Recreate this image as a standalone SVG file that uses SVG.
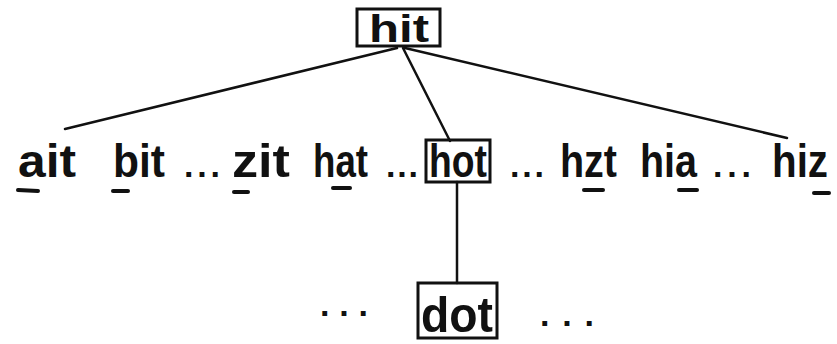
<svg xmlns="http://www.w3.org/2000/svg" width="837" height="344" viewBox="0 0 837 344">
  <style>
    .w { font-family: "Liberation Sans", "DejaVu Sans", sans-serif; font-weight: bold; fill: #111; font-size: 46px; }
    .box { fill: none; stroke: #111; stroke-width: 3; }
    .edge { stroke: #111; stroke-width: 2.5; fill: none; stroke-linecap: round; }
    .ul { stroke: #111; stroke-width: 4; stroke-linecap: round; }
    .dots { font-family: "Liberation Sans", sans-serif; font-weight: bold; font-size: 34px; fill: #111; }
  </style>
  <rect width="837" height="344" fill="#fff"/>

  <g id="edges">
    <line class="edge" x1="397" y1="48" x2="65" y2="129"/>
    <line class="edge" x1="403" y1="48" x2="450" y2="141"/>
    <line class="edge" x1="405" y1="48" x2="787" y2="138"/>
    <line class="edge" x1="457" y1="182" x2="457" y2="283"/>
  </g>

  <g id="hit">
    <rect class="box" x="357" y="9" width="83" height="37"/>
    <text class="w" x="369" y="42" style="font-size:38px" textLength="60" lengthAdjust="spacingAndGlyphs">hit</text>
  </g>

  <g id="ait">
    <text class="w" x="18" y="177" textLength="58" lengthAdjust="spacingAndGlyphs">ait</text>
    <line class="ul" x1="18" y1="190" x2="38" y2="191"/>
  </g>
  <g id="bit">
    <text class="w" x="113" y="177" textLength="52" lengthAdjust="spacingAndGlyphs">bit</text>
    <line class="ul" x1="113" y1="191" x2="128" y2="191"/>
  </g>
  <text class="dots" x="184" y="177" textLength="36" lengthAdjust="spacing">...</text>
  <g id="zit">
    <text class="w" x="232" y="177" textLength="58" lengthAdjust="spacingAndGlyphs">zit</text>
    <line class="ul" x1="234" y1="192" x2="248" y2="192"/>
  </g>
  <g id="hat">
    <text class="w" x="313" y="177" textLength="55" lengthAdjust="spacingAndGlyphs">hat</text>
    <line class="ul" x1="333" y1="188" x2="350" y2="188"/>
  </g>
  <text class="dots" x="386" y="177" textLength="32" lengthAdjust="spacing">...</text>
  <g id="hot">
    <rect class="box" x="426" y="140" width="64" height="42"/>
    <text class="w" x="429" y="177" textLength="58" lengthAdjust="spacingAndGlyphs">hot</text>
  </g>
  <text class="dots" x="510" y="177" textLength="34" lengthAdjust="spacing">...</text>
  <g id="hzt">
    <text class="w" x="560" y="177" textLength="57" lengthAdjust="spacingAndGlyphs">hzt</text>
    <line class="ul" x1="584" y1="190" x2="603" y2="190"/>
  </g>
  <g id="hia">
    <text class="w" x="640" y="177" textLength="57" lengthAdjust="spacingAndGlyphs">hia</text>
    <line class="ul" x1="679" y1="190" x2="697" y2="190"/>
  </g>
  <text class="dots" x="713" y="177" textLength="38" lengthAdjust="spacing">...</text>
  <g id="hiz">
    <text class="w" x="772" y="177" textLength="56" lengthAdjust="spacingAndGlyphs">hiz</text>
    <line class="ul" x1="814" y1="193" x2="829" y2="193"/>
  </g>

  <g id="dot">
    <rect class="box" x="418" y="283" width="79" height="55"/>
    <text class="w" x="421" y="332" style="font-size:50px" textLength="72" lengthAdjust="spacingAndGlyphs">dot</text>
  </g>
  <text class="dots" x="320" y="316" textLength="48" lengthAdjust="spacing">...</text>
  <text class="dots" x="540" y="326" textLength="54" lengthAdjust="spacing">...</text>
</svg>
